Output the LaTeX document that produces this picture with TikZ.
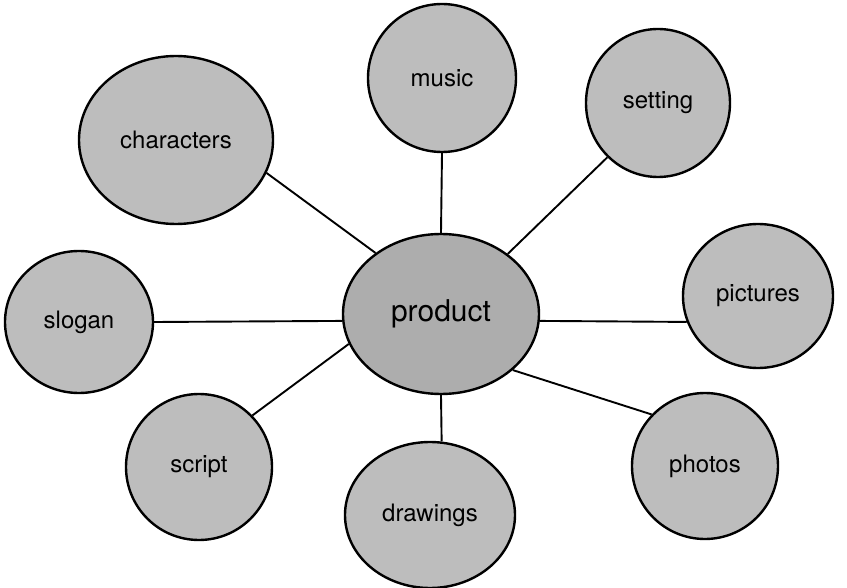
\documentclass[tikz,border=0pt]{standalone}
\usepackage{fontspec}
\setmainfont{TeX Gyre Heros}
\usepackage{tikz}
\usetikzlibrary{shapes.geometric}
\tikzset{
  bub/.style ={ellipse, draw=black, line width=2.4pt, fill=black!26, inner sep=0pt,
               font=\fontsize{24}{28}\selectfont},
  hub/.style ={bub, fill=black!32, font=\fontsize{30}{34}\selectfont},
  link/.style={line width=1.9pt},
}

\begin{document}
\begin{tikzpicture}[x=1pt, y=-1pt]
  \useasboundingbox (0,0) rectangle (847,588);
  \node[hub, minimum width=196pt, minimum height=160pt] (prod) at (441,314) {product};
  \node[bub, minimum width=194pt, minimum height=168pt] (char) at (176,140) {characters};
  \node[bub, minimum width=148pt, minimum height=148pt] (mus)  at (442,78)  {music};
  \node[bub, minimum width=144pt, minimum height=148pt] (set)  at (658,103) {setting};
  \node[bub, minimum width=150pt, minimum height=144pt] (pic)  at (758,296) {pictures};
  \node[bub, minimum width=148pt, minimum height=142pt] (slo)  at (79,322)  {slogan};
  \node[bub, minimum width=146pt, minimum height=146pt] (scr)  at (199,467) {script};
  \node[bub, minimum width=170pt, minimum height=146pt] (drw)  at (430,515) {drawings};
  \node[bub, minimum width=146pt, minimum height=146pt] (pho)  at (705,466) {photos};
  % spokes
  \draw[link] (prod.137)  -- (char.-20);
  \draw[link] (prod.90)   -- (mus.-90);
  \draw[link] (prod.42)   -- (set.-133);
  \draw[link] (prod.-4)   -- (pic.-160);
  \draw[link] (prod.184)  -- (slo.0);
  \draw[link] (prod.-162) -- (scr.44);
  \draw[link] (prod.-90)  -- (drw.81);
  \draw[link] (prod.-38)  -- (pho.136);
\end{tikzpicture}
\end{document}
